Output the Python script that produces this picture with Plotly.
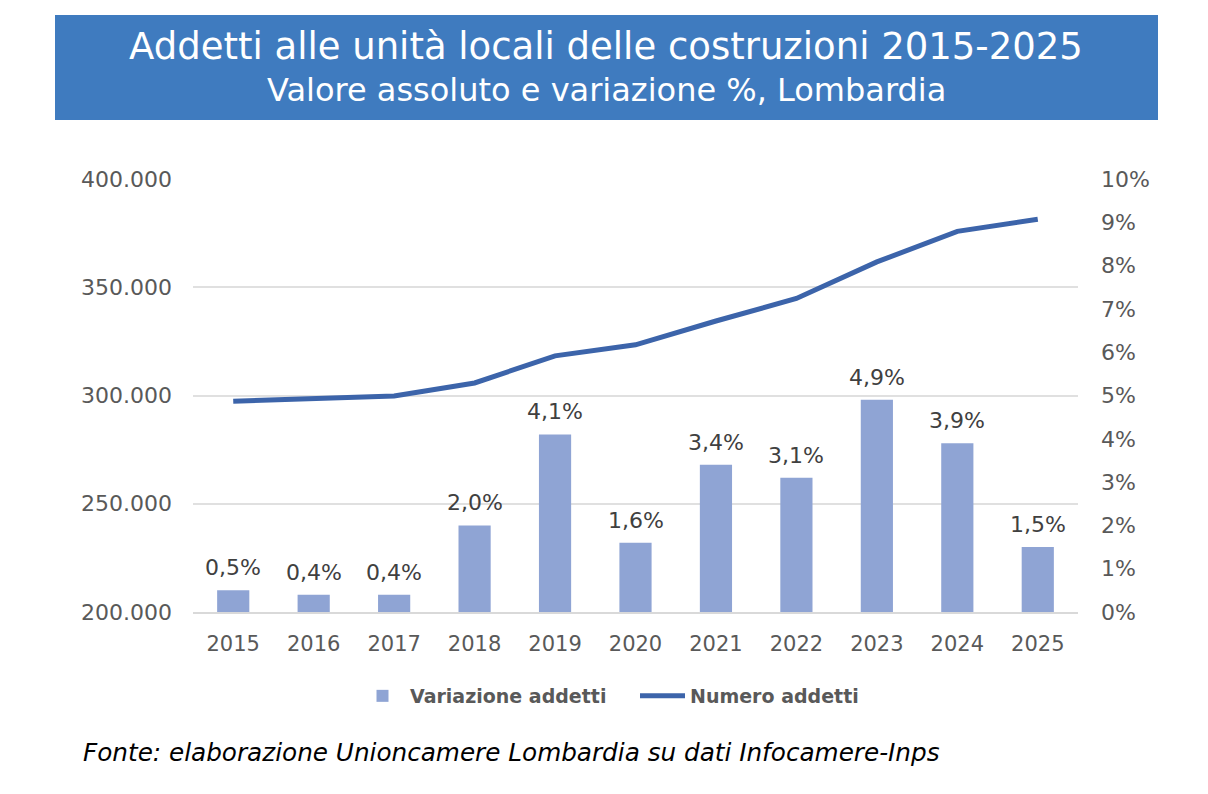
import plotly.graph_objects as go

years = ["2015", "2016", "2017", "2018", "2019", "2020", "2021", "2022", "2023", "2024", "2025"]
variazione = [0.5, 0.4, 0.4, 2.0, 4.1, 1.6, 3.4, 3.1, 4.9, 3.9, 1.5]
numero = [297400, 298600, 299800, 305800, 318300, 323400, 334400, 344800, 361700, 375800, 381400]

labels = [f"{v:.1f}%".replace(".", ",") for v in variazione]

W, H = 1208, 794
L, R, T, B = 193, 1078, 179, 612

fig = go.Figure()
fig.add_trace(go.Bar(
    x=years, y=variazione, yaxis="y2", name="Variazione addetti",
    marker=dict(color="#8FA4D4", line=dict(width=0)),
    width=0.4,
))
fig.add_trace(go.Scatter(
    x=years, y=numero, yaxis="y", name="Numero addetti", mode="lines",
    line=dict(color="#3C64AA", width=5),
))

for i, (v, lab) in enumerate(zip(variazione, labels)):
    fig.add_annotation(x=i, y=v, xref="x", yref="y2", text=lab, showarrow=False,
                       yanchor="bottom", yshift=8,
                       font=dict(family="DejaVu Sans", size=22, color="#404040"))

fig.update_layout(
    width=W, height=H,
    margin=dict(l=L, r=W - R, t=T, b=H - B, autoexpand=False),
    paper_bgcolor="white", plot_bgcolor="white",
    separators=",.",
    font=dict(family="DejaVu Sans", size=21, color="#595959"),
    xaxis=dict(
        type="category", categoryorder="array", categoryarray=years,
        showgrid=False, showline=True, linecolor="#D9D9D9", linewidth=1.5,
        ticks="", tickfont=dict(size=21, color="#595959"), ticklabelstandoff=12,
        fixedrange=True,
    ),
    yaxis=dict(
        range=[200000, 400000], dtick=50000, tickformat=",.0f",
        showgrid=True, gridcolor="#E0E0E0", gridwidth=1.5, zeroline=False,
        ticks="", ticklabelstandoff=20, tickfont=dict(size=22, color="#595959"),
    ),
    yaxis2=dict(
        range=[0, 10], dtick=1, ticksuffix="%", overlaying="y", side="right",
        showgrid=False, zeroline=False, ticks="", ticklabelstandoff=22,
        tickfont=dict(size=22, color="#595959"),
    ),
    legend=dict(
        orientation="h", xref="container", yref="container",
        x=355 / W, y=(H - 696) / H, xanchor="left", yanchor="middle",
        font=dict(family="DejaVu Sans", size=19, color="#595959", weight="bold"),
        itemwidth=45, traceorder="normal", entrywidth=220, entrywidthmode="pixels",
    ),
    barmode="overlay",
    showlegend=True,
)

def py(ypix):
    return (B - ypix) / (B - T)

def px(xpix):
    return (xpix - L) / (R - L)

# title banner
fig.add_shape(type="rect", xref="paper", yref="paper",
              x0=px(55), x1=px(1158), y0=py(120), y1=py(15),
              fillcolor="#3F7BBF", line=dict(width=0), layer="above")

fig.add_annotation(text="Addetti alle unità locali delle costruzioni 2015-2025",
                   xref="paper", yref="paper", x=px(606), y=py(46), showarrow=False,
                   xanchor="center", yanchor="middle",
                   font=dict(family="DejaVu Sans", size=37, color="white"))
fig.add_annotation(text="Valore assoluto e variazione %, Lombardia",
                   xref="paper", yref="paper", x=px(606), y=py(90), showarrow=False,
                   xanchor="center", yanchor="middle",
                   font=dict(family="DejaVu Sans", size=32, color="white"))
fig.add_annotation(text="<i>Fonte: elaborazione Unioncamere Lombardia su dati Infocamere-Inps</i>",
                   xref="paper", yref="paper", x=px(81), y=py(752), showarrow=False,
                   xanchor="left", yanchor="middle",
                   font=dict(family="DejaVu Sans", size=24.7, color="#000000"))

fig.write_html("out.html")
